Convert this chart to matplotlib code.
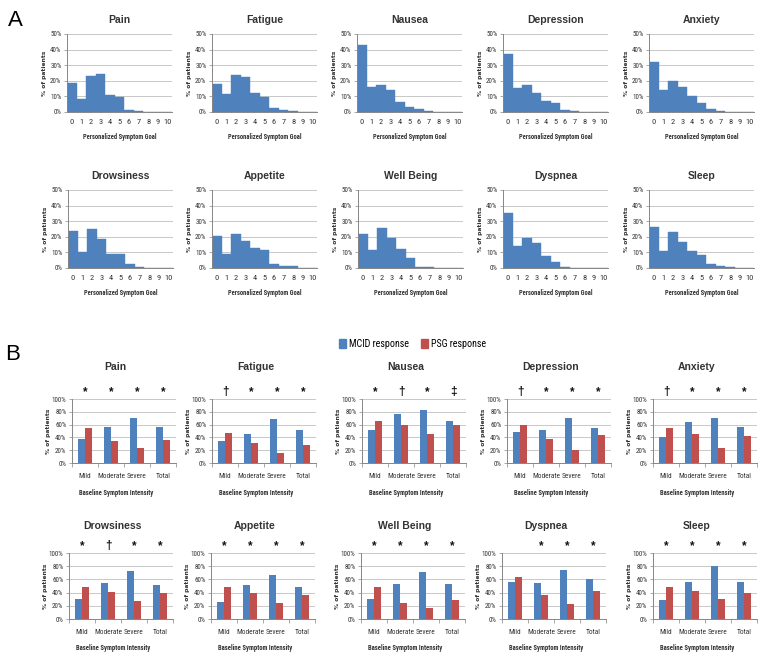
import matplotlib
matplotlib.use('Agg')
import matplotlib.pyplot as plt
import matplotlib.ticker as mticker
from matplotlib.patches import Patch

plt.rcParams['font.family'] = ['Roboto Condensed', 'DejaVu Sans']

# ---- panel A: distribution of personalized symptom goal (% of patients)
goals = list(range(11))
names = ['Pain', 'Fatigue', 'Nausea', 'Depression', 'Anxiety',
         'Drowsiness', 'Appetite', 'Well Being', 'Dyspnea', 'Sleep']

pain_goal = [18.6, 8.5, 23.1, 24.4, 11.0, 9.3, 1.5, 0.8, 0.2, 0.0, 0.2]
fatigue_goal = [18.0, 11.7, 23.7, 22.2, 11.9, 9.5, 2.8, 1.5, 0.5, 0.2, 0.0]
nausea_goal = [42.8, 16.3, 17.0, 13.8, 6.4, 3.2, 1.7, 0.8, 0.2, 0.0, 0.0]
depression_goal = [37.2, 15.4, 17.3, 12.4, 7.3, 5.6, 1.3, 0.9, 0.3, 0.0, 0.0]
anxiety_goal = [31.8, 14.3, 20.1, 15.8, 10.0, 5.6, 1.7, 0.6, 0.3, 0.1, 0.0]
drowsiness_goal = [23.8, 10.2, 24.9, 18.5, 9.1, 8.7, 2.3, 0.6, 0.2, 0.0, 0.0]
appetite_goal = [20.6, 9.1, 22.1, 17.4, 12.8, 11.3, 2.6, 1.3, 1.3, 0.2, 0.3]
wellbeing_goal = [22.1, 11.7, 25.5, 19.4, 12.3, 6.6, 0.9, 0.4, 0.3, 0.1, 0.0]
dyspnea_goal = [35.4, 13.9, 19.4, 16.0, 7.4, 4.0, 0.6, 0.1, 0.0, 0.0, 0.0]
sleep_goal = [26.2, 11.1, 23.0, 16.4, 10.9, 8.3, 2.3, 1.5, 0.4, 0.0, 0.0]

goal_data = [pain_goal, fatigue_goal, nausea_goal, depression_goal, anxiety_goal,
             drowsiness_goal, appetite_goal, wellbeing_goal, dyspnea_goal, sleep_goal]

# ---- panel B: response by baseline intensity (% of patients)
levels = ['Mild', 'Moderate', 'Severe', 'Total']

mcid = {
    'Pain': [38, 57, 70, 57],
    'Fatigue': [34, 46, 69, 52],
    'Nausea': [52, 77, 83, 65],
    'Depression': [48, 52, 70, 55],
    'Anxiety': [41, 64, 70, 57],
    'Drowsiness': [30, 55, 72, 51],
    'Appetite': [26, 51, 67, 48],
    'Well Being': [31, 53, 71, 53],
    'Dyspnea': [56, 55, 75, 60],
    'Sleep': [29, 56, 80, 56],
}
psg = {
    'Pain': [55, 34, 23, 36],
    'Fatigue': [47, 31, 16, 28],
    'Nausea': [65, 60, 45, 59],
    'Depression': [60, 37, 21, 43],
    'Anxiety': [55, 45, 23, 42],
    'Drowsiness': [49, 41, 27, 40],
    'Appetite': [48, 40, 24, 37],
    'Well Being': [48, 25, 17, 29],
    'Dyspnea': [63, 36, 22, 43],
    'Sleep': [48, 42, 31, 40],
}
marks = {
    'Pain': ['*', '*', '*', '*'],
    'Fatigue': ['\u2020', '*', '*', '*'],
    'Nausea': ['*', '\u2020', '*', '\u2021'],
    'Depression': ['\u2020', '*', '*', '*'],
    'Anxiety': ['\u2020', '*', '*', '*'],
    'Drowsiness': ['*', '\u2020', '*', '*'],
    'Appetite': ['*', '*', '*', '*'],
    'Well Being': ['*', '*', '*', '*'],
    'Dyspnea': ['', '*', '*', '*'],
    'Sleep': ['*', '*', '*', '*'],
}

BLUE = '#4F81BD'
RED = '#C0504D'
GRID = '#BFBFBF'
AXC = '#868686'
TXT = '#333333'

W, H = 770, 666
fig = plt.figure(figsize=(W / 100, H / 100), dpi=100)


def px_axes(left, top, width, height):
    return fig.add_axes([left / W, 1 - (top + height) / H, width / W, height / H])


def base_style(ax):
    for s in ['top', 'right']:
        ax.spines[s].set_visible(False)
    for s in ['left', 'bottom']:
        ax.spines[s].set_color(AXC)
        ax.spines[s].set_linewidth(0.7)
    ax.yaxis.grid(True, color=GRID, lw=0.6)
    ax.set_axisbelow(True)
    ax.yaxis.set_major_formatter(mticker.PercentFormatter(xmax=100, decimals=0))
    ax.tick_params(axis='y', labelsize=5, colors=AXC, labelcolor=TXT,
                   length=2, width=0.5, pad=2)


def ylab(ax, x):
    ax.text(x, 0.5, '% of patients', transform=ax.transAxes, rotation=90,
            ha='center', va='center', fontsize=4.3, fontweight='bold',
            family=['DejaVu Sans'], color=TXT)


# panel A layout (pixels)
a_left = [[67, 212, 357, 503, 649], [68, 212, 358, 503, 649]]
a_top = [34, 190]
a_w, a_h = 105, 78

for i, (name, vals) in enumerate(zip(names, goal_data)):
    r, c = divmod(i, 5)
    ax = px_axes(a_left[r][c], a_top[r], a_w, a_h)
    ax.bar(goals, vals, width=1.0, color=BLUE, edgecolor=BLUE, lw=0.3)
    ax.set_xlim(-0.5, 10.5)
    ax.set_ylim(0, 50)
    ax.set_yticks([0, 10, 20, 30, 40, 50])
    ax.set_xticks(goals)
    base_style(ax)
    ax.tick_params(axis='x', labelsize=6, labelcolor=TXT, length=0, pad=5)
    ax.set_title(name, fontsize=7.5, fontweight='bold', family=['Liberation Sans'],
                 color=TXT, pad=8)
    ax.text(0.5, -0.32, 'Personalized Symptom Goal', transform=ax.transAxes,
            ha='center', va='center', fontsize=4.7, fontweight='bold', color=TXT)
    ylab(ax, -0.21)

# panel B layout (pixels)
b_left = [[72, 212, 362, 507, 653], [69, 211, 361, 502, 653]]
b_top = [399, 553]
b_h = [64, 66]
b_w = 104
bw = 0.28

for i, name in enumerate(names):
    r, c = divmod(i, 5)
    ax = px_axes(b_left[r][c], b_top[r], b_w, b_h[r])
    x = list(range(len(levels)))
    ax.bar([v - bw / 2 for v in x], mcid[name], width=bw, color=BLUE)
    ax.bar([v + bw / 2 for v in x], psg[name], width=bw, color=RED)
    ax.set_xlim(-0.5, 3.5)
    ax.set_ylim(0, 100)
    ax.set_yticks([0, 20, 40, 60, 80, 100])
    ax.set_xticks(x)
    ax.set_xticklabels(levels)
    ax.set_xticks([-0.5, 0.5, 1.5, 2.5, 3.5], minor=True)
    base_style(ax)
    ax.tick_params(axis='x', which='major', labelsize=5.3, labelcolor=TXT,
                   length=0, pad=7)
    ax.tick_params(axis='x', which='minor', length=3, width=0.5, colors=AXC)
    ax.set_title(name, fontsize=7.5, fontweight='bold', family=['Liberation Sans'],
                 color=TXT, pad=21 if r == 0 else 17, x=0.42)
    ax.text(0.42, -0.47 if r == 0 else -0.44, 'Baseline Symptom Intensity',
            transform=ax.transAxes, ha='center', va='center',
            fontsize=4.8, fontweight='bold', color=TXT)
    ylab(ax, -0.23)
    for j, m in enumerate(marks[name]):
        ax.text(j, 1.02, m, transform=ax.get_xaxis_transform(), ha='center',
                va='bottom', fontsize=8.5, fontweight='bold',
                family=['Liberation Sans'], color='#111111')

fig.legend(handles=[Patch(color=BLUE, label='MCID response'),
                    Patch(color=RED, label='PSG response')],
           loc='center', bbox_to_anchor=(413 / W, 1 - 344 / H), ncol=2,
           frameon=False, fontsize=7.2, handlelength=0.7, handleheight=0.9,
           handletextpad=0.3, columnspacing=1.2)

fig.text(15 / W, 1 - 20 / H, 'A', fontsize=16, ha='center', va='center',
         family=['Liberation Sans'])
fig.text(13 / W, 1 - 355 / H, 'B', fontsize=16, ha='center', va='center',
         family=['Liberation Sans'])

fig.savefig('out.png', dpi=100)
